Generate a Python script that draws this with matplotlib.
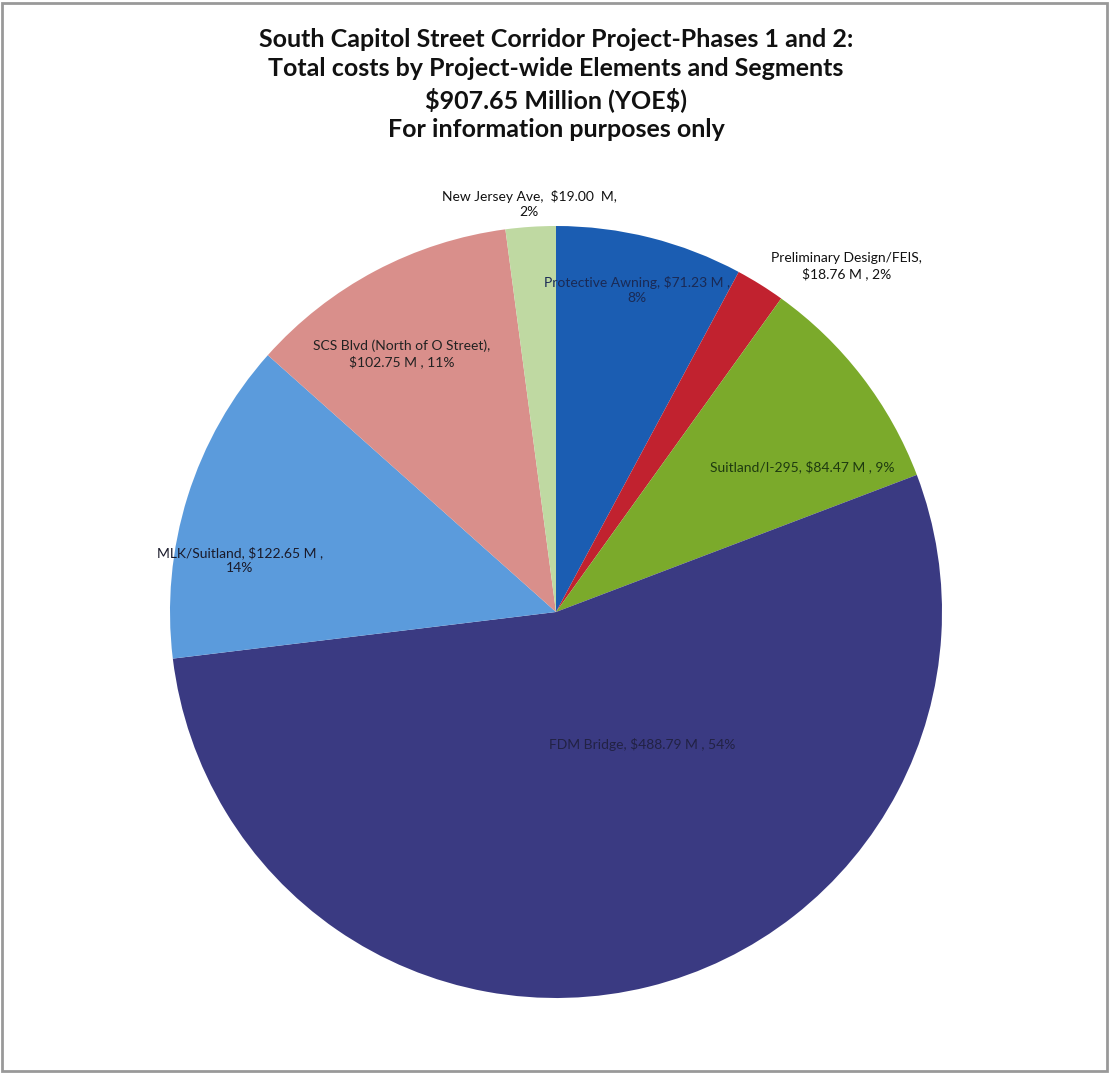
import matplotlib.pyplot as plt
import numpy as np
from matplotlib.patches import Rectangle

# data (clockwise from 12 o'clock)
segments = ['Protective Awning', 'Preliminary Design/FEIS', 'Suitland/I-295',
            'FDM Bridge', 'MLK/Suitland', 'SCS Blvd (North of O Street)', 'New Jersey Ave']
costs = [71.23, 18.76, 84.47, 488.79, 122.65, 102.75, 19.00]
pcts = ['8%', '2%', '9%', '54%', '14%', '11%', '2%']
colors = ['#1B5DB2', '#C1222F', '#7BAA2B', '#3A3A82', '#5B9BDC', '#D98F8B', '#BFD9A2']

# label layout: text template, radial distance, angle tweak (deg)
label_fmt = ['{n}, \\${c:.2f} M ,\n{p}', '{n},\n\\${c:.2f} M , {p}', '{n}, \\${c:.2f} M , {p}',
             '{n}, \\${c:.2f} M , {p}', '{n}, \\${c:.2f} M ,\n{p}', '{n},\n\\${c:.2f} M , {p}',
             '{n},  \\${c:.2f}  M,\n{p}']
label_r = [0.86, 1.17, 0.74, 0.41, 0.83, 0.78, 1.06]
label_dang = [0, 8, 7, -19, -8, -3, 0]
text_col = ['#1a2a55', '#111111', '#1e3a10', '#222244', '#1a1a2a', '#222222', '#111111']

fig = plt.figure(figsize=(11.10, 10.74), dpi=100)
fig.patches.append(Rectangle((0.002, 0.003), 0.995, 0.994, transform=fig.transFigure,
                             fill=False, edgecolor='#999999', linewidth=2))

title = ('South Capitol Street Corridor Project-Phases 1 and 2:\n'
         'Total costs by Project-wide Elements and Segments\n'
         '\\$907.65 Million (YOE\\$)\n'
         'For information purposes only')
fig.text(0.501, 0.974, title, ha='center', va='top', fontsize=18, fontweight='bold',
         family=['Lato', 'DejaVu Sans'], linespacing=1.33, color='#111111')

cx, cy, r = 556, 612, 386
ax = fig.add_axes([(cx - r) / 1110, (1074 - cy - r) / 1074, 2 * r / 1110, 2 * r / 1074])
wedges, _ = ax.pie(costs, colors=colors, startangle=90, counterclock=False,
                   wedgeprops=dict(linewidth=0))
ax.set_xlim(-1, 1)
ax.set_ylim(-1, 1)
ax.axis('off')

for i, w in enumerate(wedges):
    mid = np.deg2rad((w.theta1 + w.theta2) / 2 - label_dang[i])
    x = label_r[i] * np.cos(mid)
    y = label_r[i] * np.sin(mid)
    txt = label_fmt[i].format(n=segments[i], c=costs[i], p=pcts[i])
    ax.text(x, y, txt, ha='center', va='center', fontsize=10, color=text_col[i],
            family=['Lato', 'DejaVu Sans'], linespacing=1.3, clip_on=False)

fig.savefig('out.png', dpi=100)
